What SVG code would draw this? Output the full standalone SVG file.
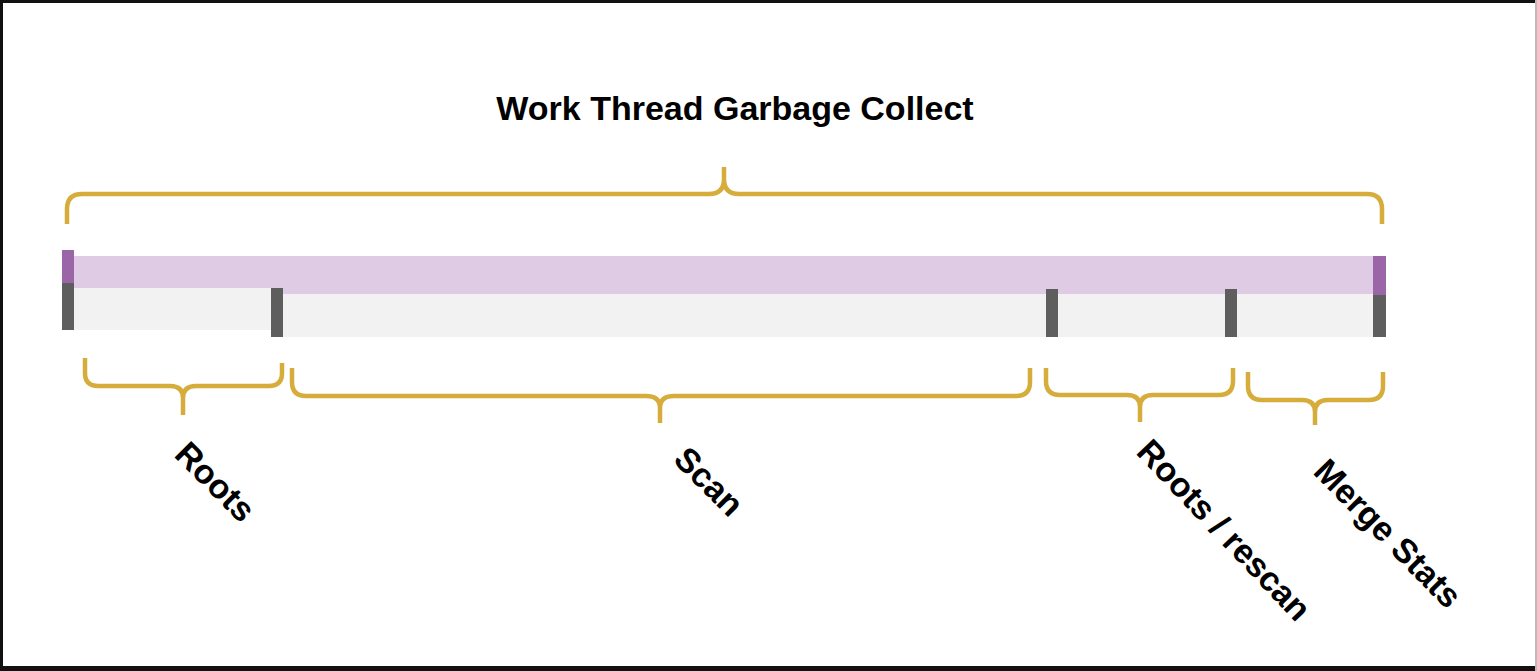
<svg xmlns="http://www.w3.org/2000/svg" width="1537" height="671" viewBox="0 0 1537 671">
<style>
.brace{fill:none;stroke:#D6AC3A;stroke-width:4.5;stroke-linecap:butt;stroke-linejoin:round}
.lbl{font-family:"Liberation Sans",Arial,Helvetica,sans-serif;font-weight:bold;font-size:34px;fill:#000}
.tick{fill:#5E5E5E}
.mark{fill:#9A66A8}
</style>
<rect x="0" y="0" width="1537" height="671" fill="#fff"/>
<g id="frame">
<rect x="0" y="0" width="1537" height="3" fill="#111"/>
<rect x="0" y="0" width="3" height="671" fill="#111"/>
<rect x="0" y="666" width="1537" height="5" fill="#111"/>
<rect x="1535" y="0" width="2" height="671" fill="#bbb"/>
</g>
<g id="title">
<text class="lbl" x="735" y="120" text-anchor="middle">Work Thread Garbage Collect</text>
</g>
<g id="timeline">
<polygon points="74,256 1373,256 1373,294 283,294 283,288 74,288" fill="#DFCCE4"/>
<rect x="74" y="288" width="197" height="42" fill="#F2F2F2"/>
<rect x="283" y="294" width="1090" height="43" fill="#F2F2F2"/>
<rect class="mark" x="62" y="250" width="12" height="33"/>
<rect class="tick" x="62" y="283" width="12" height="47"/>
<rect class="tick" x="271" y="288" width="12" height="49"/>
<rect class="tick" x="1046" y="289" width="12" height="48"/>
<rect class="tick" x="1225" y="289" width="12" height="48"/>
<rect class="mark" x="1373" y="256" width="13" height="39"/>
<rect class="tick" x="1373" y="295" width="13" height="42"/>
</g>
<g id="braces">
<path class="brace" d="M67,224 V209 Q67,194 82,194 H709 Q724,194 724,179 V167 M1382,224 V209 Q1382,194 1367,194 H739 Q724,194 724,179"/>
<path class="brace" d="M85,358 V373 Q85,386 98,386 H170 Q183,386 183,398 V415 M282,363 V373 Q282,386 269,386 H196 Q183,386 183,398"/>
<path class="brace" d="M292,368 V382 Q292,396 306,396 H646 Q660,396 660,408 V423 M1030,368 V382 Q1030,396 1016,396 H674 Q660,396 660,408"/>
<path class="brace" d="M1046,368 V381 Q1046,395 1060,395 H1127 Q1140,395 1140,407 V422 M1233,368 V381 Q1233,395 1219,395 H1153 Q1140,395 1140,407"/>
<path class="brace" d="M1248,372 V386 Q1248,400 1262,400 H1302 Q1315,400 1315,412 V425 M1383,372 V386 Q1383,400 1369,400 H1328 Q1315,400 1315,412"/>
</g>
<g id="labels">
<text class="lbl" transform="translate(173,456) rotate(45)">Roots</text>
<text class="lbl" transform="translate(672,461) rotate(45)">Scan</text>
<text class="lbl" transform="translate(1135,453) rotate(46.5)">Roots / rescan</text>
<text class="lbl" transform="translate(1312,473) rotate(45.4)">Merge Stats</text>
</g>
</svg>
